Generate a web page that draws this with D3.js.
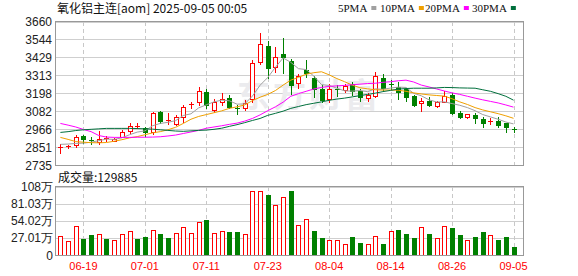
<!DOCTYPE html>
<html>
<head>
<meta charset="utf-8">
<script src="https://cdnjs.cloudflare.com/ajax/libs/d3/7.8.5/d3.min.js"></script>
<style>
body { margin: 0; background: #fff; }
text { font-family: "Liberation Sans", Arial, sans-serif; }
</style>
</head>
<body>
<div id="chart"></div>
<script>
var dates = ["06-16","06-17","06-18","06-19","06-20","06-23","06-24","06-25","06-26","06-27","06-30",
  "07-01","07-02","07-03","07-04","07-07","07-08","07-09","07-10","07-11","07-14","07-15","07-16","07-17","07-18",
  "07-21","07-22","07-23","07-24","07-25","07-28","07-29","07-30","07-31","08-01","08-04","08-05","08-06","08-07",
  "08-08","08-11","08-12","08-13","08-14","08-15","08-18","08-19","08-20","08-21","08-22","08-25","08-26","08-27",
  "08-28","08-29","09-01","09-02","09-03","09-04","09-05"];

var openP  = [2846,2851,2862,2922,2893,2885,2904,2892,2918,2957,2984,2975,2945,3075,3020,3000,3045,3122,3140,3208,
  3090,3142,3168,3102,3100,3160,3396,3503,3368,3452,3404,3265,3350,3299,3223,3160,3226,3218,3260,3211,
  3165,3182,3298,3256,3238,3222,3180,3133,3148,3118,3143,3185,3070,3042,3057,3030,3016,3020,3004,2970];
var highP  = [2870,2866,2928,2930,2917,2952,2925,2910,2960,3003,3007,2982,3078,3084,3068,3060,3122,3143,3240,3222,
  3160,3196,3186,3120,3152,3415,3589,3533,3497,3552,3421,3321,3410,3308,3250,3254,3250,3256,3271,3228,
  3200,3336,3321,3282,3271,3228,3188,3164,3175,3150,3213,3200,3082,3065,3068,3046,3040,3046,3008,2982];
var lowP   = [2815,2843,2853,2875,2872,2870,2888,2888,2913,2940,2972,2920,2935,3007,3000,2990,3015,3105,3122,3100,
  3075,3122,3100,3062,3090,3142,3383,3293,3336,3330,3192,3230,3303,3175,3142,3142,3180,3205,3188,3148,
  3145,3171,3213,3223,3160,3150,3115,3085,3115,3110,3140,3062,3036,3036,3008,2978,2997,2982,2950,2950];
var closeP = [2849,2856,2913,2902,2889,2900,2908,2903,2949,2988,2988,2945,3072,3020,3025,3045,3108,3128,3210,3122,
  3140,3163,3112,3098,3132,3390,3512,3362,3428,3432,3250,3308,3330,3222,3155,3223,3220,3243,3214,3176,
  3186,3310,3230,3252,3208,3176,3121,3147,3122,3139,3181,3068,3046,3063,3038,3003,3020,2993,2982,2966];

var ma5  = [2868,2870,2874,2876,2882,2892,2902,2900,2910,2930,2947,2955,2988,3003,3010,3021,3054,3065,3103,3123,
  3142,3153,3149,3127,3129,3179,3249,3299,3365,3425,3397,3356,3350,3308,3253,3248,3230,3213,3211,3215,
  3208,3226,3223,3231,3237,3235,3197,3181,3155,3141,3142,3131,3120,3105,3085,3060,3045,3030,3012,3000];
var ma10 = [2913,2900,2886,2882,2879,2878,2880,2888,2898,2910,2918,2930,2942,2950,2962,2978,3003,3030,3048,3060,
  3072,3084,3100,3110,3122,3150,3172,3190,3215,3250,3282,3300,3320,3330,3336,3316,3292,3272,3250,3233,
  3226,3220,3218,3218,3217,3210,3200,3193,3187,3183,3179,3162,3142,3125,3105,3090,3078,3066,3052,3036];
var ma20 = [3003,2992,2980,2964,2950,2925,2915,2913,2913,2913,2914,2914,2915,2917,2922,2928,2938,2948,2958,2972,
  2980,2988,2997,3005,3018,3035,3058,3085,3110,3140,3178,3195,3210,3225,3235,3242,3245,3248,3252,3256,
  3260,3262,3268,3272,3278,3282,3270,3250,3238,3225,3212,3200,3190,3178,3166,3155,3145,3135,3122,3108];
var ma30 = [2945,2950,2957,2962,2965,2968,2971,2971,2971,2971,2970,2968,2966,2962,2958,2954,2952,2955,2958,2960,
  2965,2972,2984,2995,3008,3022,3035,3055,3068,3082,3100,3112,3124,3133,3142,3152,3160,3166,3174,3182,
  3190,3198,3208,3216,3224,3228,3230,3230,3230,3232,3235,3234,3232,3231,3230,3220,3210,3195,3178,3153];

// volume in 万 (10k lots), 1 = up day (hollow red), 0 = down day (solid green)
var volume = [30.1,22.2,45.4,25.3,31.6,32.7,25.3,23.7,32.7,37.5,25.3,28.5,39.1,33.2,26.9,34.3,44.3,34.8,51.7,55.4,
  34.3,38.0,36.4,36.4,33.2,101.3,101.3,94.9,79.1,91.8,101.3,47.5,57.0,38.0,26.9,23.2,23.2,16.9,28.5,19.0,
  16.9,30.1,17.4,38.0,39.6,33.2,26.9,44.3,33.2,26.9,45.9,43.2,31.6,23.2,28.5,36.4,31.6,23.7,28.5,12.99];
var volUp = [1,1,1,0,0,1,0,1,1,1,0,0,1,0,0,1,1,1,1,0,1,1,0,0,1,1,1,0,1,1,
  0,1,1,0,0,1,1,1,0,0,1,1,0,1,0,0,0,1,0,1,1,0,0,1,0,0,1,0,0,0];

var priceTicks = [2735,2851,2966,3082,3198,3313,3429,3544,3660];
var volTicks = [0,27.01,54.02,81.03,108.04];
var volTickLabels = ["0","27.01万","54.02万","81.03万","108万"];
var dateTicks = ["06-19","07-01","07-11","07-23","08-04","08-14","08-26","09-05"];

var maNames = ["5PMA","10PMA","20PMA","30PMA"];
var maColors = ["#a0a0a0","#f0a000","#ff00ff","#006f3c"];
var RED = "#ff0000", GREEN = "#008000";

function drawChart() {
    var W = 578, H = 276;
    var left = 56, right = 522.5;
    var pTop = 21.5, pBot = 165;
    var vTop = 186.5, vBot = 255;

    var svg = d3.select("#chart").append("svg")
        .attr("width", W).attr("height", H)
        .style("display", "block");

    var x = d3.scaleLinear().domain([0, 59]).range([60.4, 513.5]);
    var y = d3.scaleLinear().domain([2735, 3660]).range([pBot, pTop]);
    var yv = d3.scaleLinear().domain([0, 108.04]).range([vBot, vTop]);
    var px = function (i) { return Math.round(x(i)); };

    // title + legend
    svg.append("text").attr("x", 57).attr("y", 13)
        .style("font-family", "'Noto Sans CJK SC', sans-serif").style("font-size", "12px")
        .attr("fill", "#111").text("氧化铝主连[aom] 2025-09-05 00:05");

    var legX = [338, 380, 425, 472];
    maNames.forEach(function (n, k) {
        var t = svg.append("text").attr("x", legX[k]).attr("y", 12)
            .style("font-family", "'Liberation Serif', serif").style("font-size", "11px")
            .attr("fill", "#111").text(n);
        var bw = t.node().getComputedTextLength();
        svg.append("rect").attr("x", legX[k] + bw + 4).attr("y", 6)
            .attr("width", 5).attr("height", 4).attr("fill", maColors[k]);
    });

    // price grid
    var grid = svg.append("g").attr("shape-rendering", "crispEdges");
    grid.selectAll(".hp").data(priceTicks).enter().append("line")
        .attr("x1", left).attr("x2", right)
        .attr("y1", d => Math.round(y(d)) + 0.5).attr("y2", d => Math.round(y(d)) + 0.5)
        .attr("stroke", "#cfcfcf");
    grid.selectAll(".hv").data(volTicks).enter().append("line")
        .attr("x1", left).attr("x2", right)
        .attr("y1", d => Math.round(yv(d)) + 0.5).attr("y2", d => Math.round(yv(d)) + 0.5)
        .attr("stroke", "#cfcfcf");

    var tickIdx = dateTicks.map(d => dates.indexOf(d));
    [[pTop, pBot], [vTop, vBot]].forEach(function (r) {
        grid.selectAll(null).data(tickIdx).enter().append("line")
            .attr("x1", d => px(d) + 0.5).attr("x2", d => px(d) + 0.5)
            .attr("y1", r[0]).attr("y2", r[1])
            .attr("stroke", "#c8c8c8").attr("stroke-dasharray", "4,3");
    });

    // watermark
    svg.append("text").attr("x", 237).attr("y", 107)
        .style("font-family", "'Noto Sans CJK SC', sans-serif").style("font-size", "33px")
        .style("font-weight", "bold").attr("letter-spacing", "3px")
        .attr("fill", "#ebebee").text("东方财富");

    // candles
    var cg = svg.append("g").attr("shape-rendering", "crispEdges");
    closeP.forEach(function (c, i) {
        var o = openP[i], up = c >= o, col = up ? RED : GREEN;
        var cx = px(i);
        cg.append("line").attr("x1", cx + 0.5).attr("x2", cx + 0.5)
            .attr("y1", Math.round(y(highP[i]))).attr("y2", Math.round(y(lowP[i])) + 1)
            .attr("stroke", col);
        var yt = Math.round(y(Math.max(o, c))), yb = Math.round(y(Math.min(o, c)));
        if (yb - yt < 2) {
            cg.append("rect").attr("x", cx - 2).attr("y", yt).attr("width", 5).attr("height", 1).attr("fill", col);
        } else if (up) {
            cg.append("rect").attr("x", cx - 1.5).attr("y", yt + 0.5).attr("width", 4).attr("height", yb - yt)
                .attr("fill", "#fff").attr("stroke", col);
        } else {
            cg.append("rect").attr("x", cx - 2).attr("y", yt).attr("width", 5).attr("height", yb - yt + 1)
                .attr("fill", col);
        }
    });

    // moving averages
    var line = d3.line().x((d, i) => x(i)).y(d => y(d));
    [ma5, ma10, ma20, ma30].forEach(function (s, k) {
        svg.append("path").datum(s).attr("d", line)
            .attr("fill", "none").attr("stroke", maColors[k]).attr("stroke-width", 1);
    });

    // volume bars
    var vg = svg.append("g").attr("shape-rendering", "crispEdges");
    volume.forEach(function (v, i) {
        var cx = px(i), yt = Math.round(yv(v));
        if (volUp[i]) {
            vg.append("rect").attr("x", cx - 1.5).attr("y", yt + 0.5).attr("width", 4).attr("height", vBot - yt - 0.5)
                .attr("fill", "#fff").attr("stroke", RED);
        } else {
            vg.append("rect").attr("x", cx - 2).attr("y", yt).attr("width", 5).attr("height", vBot - yt)
                .attr("fill", GREEN);
        }
    });

    // frames
    var fr = svg.append("g").attr("shape-rendering", "crispEdges").attr("fill", "none").attr("stroke", "#999");
    fr.append("rect").attr("x", left - 0.5).attr("y", pTop - 0.5).attr("width", right - left + 1).attr("height", pBot - pTop + 0.5);
    fr.append("rect").attr("x", left - 0.5).attr("y", vTop - 0.5).attr("width", right - left + 1).attr("height", vBot - vTop + 0.5);

    // axis labels
    svg.selectAll(".pl").data(priceTicks).enter().append("text")
        .attr("x", 52).attr("y", d => y(d) + 4.5).attr("text-anchor", "end")
        .style("font-size", "12px").attr("fill", "#222").text(d => d);
    svg.selectAll(".vl").data(volTicks).enter().append("text")
        .attr("x", 53).attr("y", d => yv(d) + 4.5).attr("text-anchor", "end")
        .style("font-size", "12px").attr("fill", "#222").text((d, i) => volTickLabels[i]);

    svg.append("text").attr("x", 58).attr("y", 182)
        .style("font-family", "'Noto Sans CJK SC', sans-serif").style("font-size", "12px")
        .attr("fill", "#111").text("成交量:129885");

    svg.selectAll(".dl").data(tickIdx).enter().append("text")
        .attr("x", d => x(d)).attr("y", 270).attr("text-anchor", "middle")
        .style("font-size", "11px").attr("fill", RED).text((d, i) => dateTicks[i]);
}

drawChart();
</script>
</body>
</html>
